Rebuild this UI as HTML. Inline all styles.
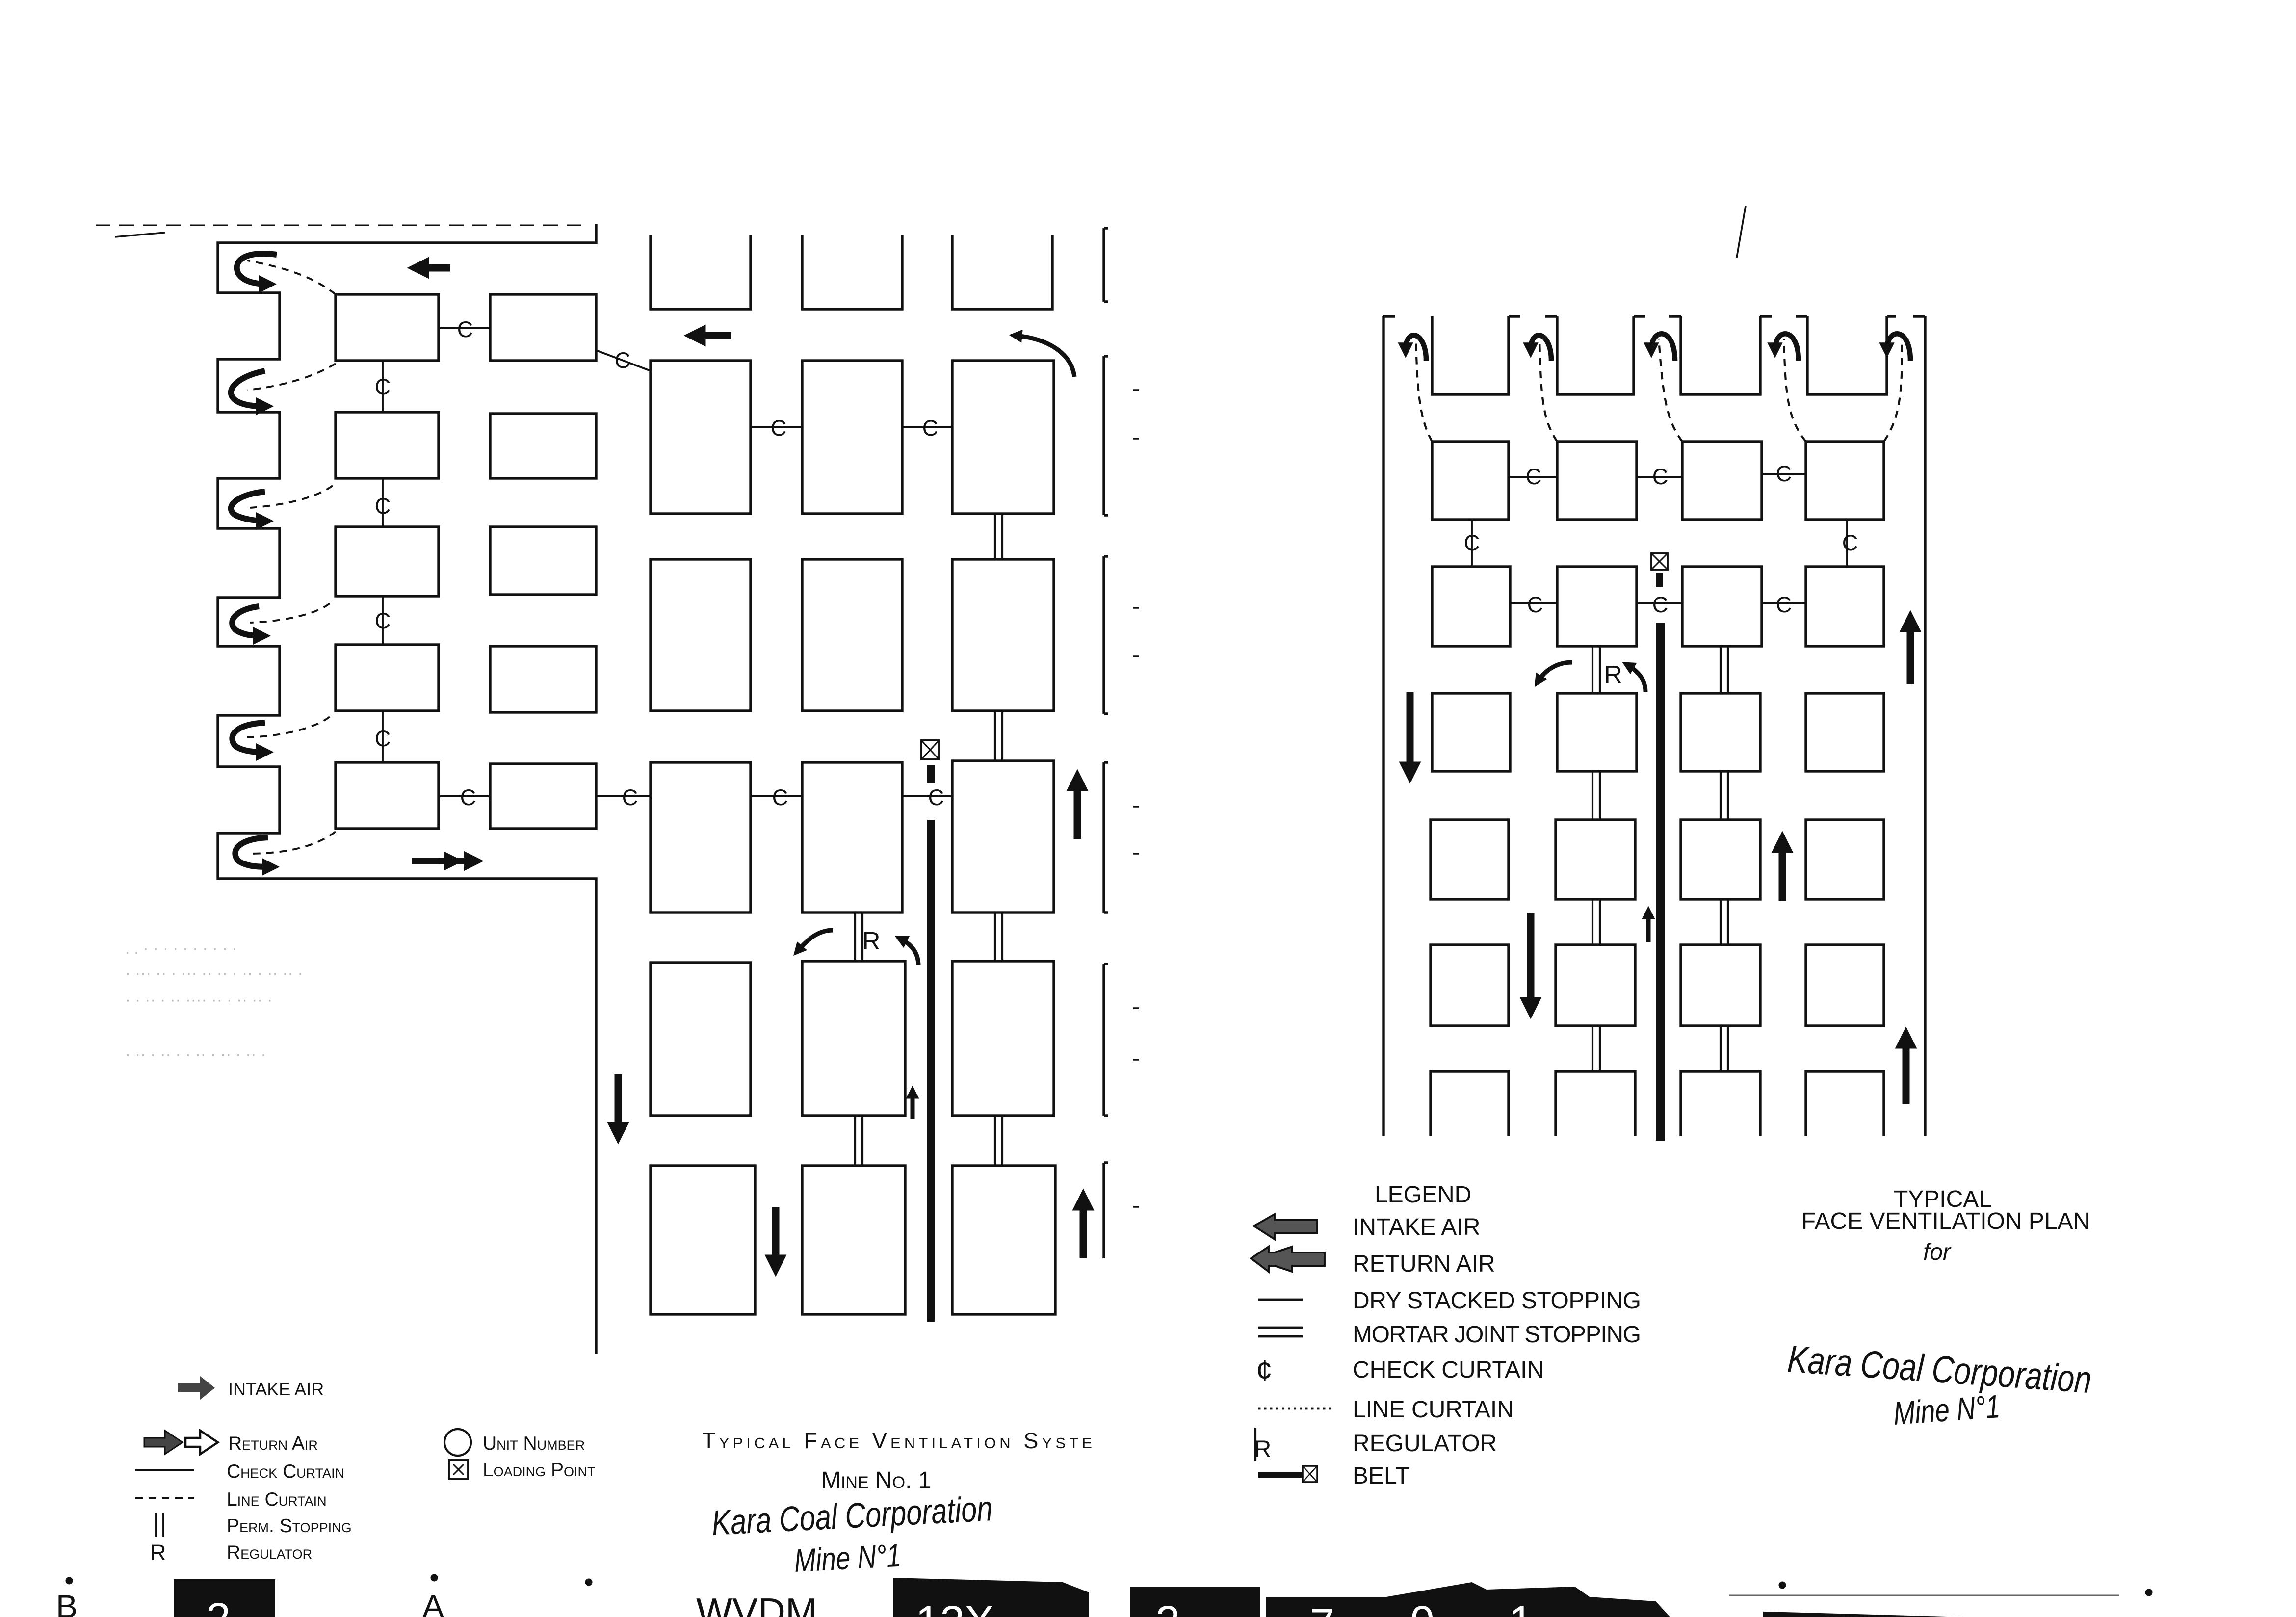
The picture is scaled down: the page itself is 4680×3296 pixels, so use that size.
<!DOCTYPE html>
<html><head><meta charset="utf-8"><style>
html,body{margin:0;padding:0;background:#fff;width:4680px;height:3296px;overflow:hidden}
svg{display:block}
.t{font-family:"Liberation Sans Narrow","Liberation Sans",sans-serif;fill:#111}
.h{font-family:"Liberation Sans Narrow","Liberation Sans",sans-serif;font-style:italic;fill:#111}
</style></head><body>
<svg width="4680" height="3296" viewBox="0 0 1560 1098.67" xmlns="http://www.w3.org/2000/svg">
<defs>
<marker id="ah" viewBox="0 0 10 10" refX="5" refY="5" markerWidth="3" markerHeight="3" orient="auto"><path d="M0,0 L10,5 L0,10 z" fill="#111"/></marker>
</defs>
<rect width="1560" height="1098.67" fill="#fff"/>
<g fill="none" stroke="#111" stroke-width="1.8">
<path d="M65,153 H400" stroke-dasharray="10,6" stroke-width="1"/>
<path d="M78,161 L112,158" stroke-width="1.2"/>
<path d="M1180,175 L1186,140" stroke-width="1.2"/>
<path d="M405,152 V165 H148 V199 H190 V244 H148 V280 H190 V325 H148 V359 H190 V406 H148 V439 H190 V486 H148 V521 H190 V566 H148 V597 H405 V920"/>
<rect x="228" y="200" width="70" height="45"/>
<rect x="228" y="280" width="70" height="45"/>
<rect x="228" y="358" width="70" height="47"/>
<rect x="228" y="438" width="70" height="45"/>
<rect x="228" y="518" width="70" height="45"/>
<rect x="333" y="200" width="72" height="45"/>
<rect x="333" y="281" width="72" height="44"/>
<rect x="333" y="358" width="72" height="46"/>
<rect x="333" y="439" width="72" height="45"/>
<rect x="333" y="519" width="72" height="44"/>
<path d="M442,160 V210 H510 V160"/>
<path d="M545,160 V210 H613 V160"/>
<path d="M647,160 V210 H715 V160"/>
<rect x="442" y="245" width="68" height="104"/><rect x="545" y="245" width="68" height="104"/><rect x="647" y="245" width="69" height="104"/>
<rect x="442" y="380" width="68" height="103"/><rect x="545" y="380" width="68" height="103"/><rect x="647" y="380" width="69" height="103"/>
<rect x="442" y="518" width="68" height="102"/><rect x="545" y="518" width="68" height="102"/><rect x="647" y="517" width="69" height="103"/>
<rect x="442" y="654" width="68" height="104"/><rect x="545" y="653" width="70" height="105"/><rect x="647" y="653" width="69" height="105"/>
<rect x="442" y="792" width="71" height="101"/><rect x="545" y="792" width="70" height="101"/><rect x="647" y="792" width="70" height="101"/>
<path d="M750,155 V205 M750,242 V350 M750,378 V485 M750,518 V620 M750,655 V758 M750,790 V855"/>
<path d="M750,155 h3 M750,205 h3 M750,242 h3 M750,350 h3 M750,378 h3 M750,485 h3 M750,518 h3 M750,620 h3 M750,655 h3 M750,758 h3 M750,790 h3"/>
<path d="M770,265 h4 M770,298 h4 M770,413 h4 M770,446 h4 M770,548 h4 M770,580 h4 M770,685 h4 M770,720 h4 M770,820 h4" stroke-width="1.2"/>
<path d="M298,223 H333 M405,238 L442,252 M260,245 V280 M260,325 V358 M260,405 V438 M260,483 V518 M298,541 H333 M405,541 H442 M510,541 H545 M613,541 H647 M510,290 H545 M613,290 H647" stroke-width="1.3"/>
<path d="M676,349 V380 M681,349 V380 M676,483 V517 M681,483 V517 M676,620 V653 M681,620 V653 M676,758 V792 M681,758 V792 M581,758 V792 M586,758 V792 M581,620 V653 M586,620 V653" stroke-width="1.4"/>
<g stroke-dasharray="5,4" stroke-width="1.3">
<path d="M228,200 C215,190 200,183 168,177"/>
<path d="M228,247 C215,255 195,262 168,265"/>
<path d="M226,330 C215,338 195,343 170,345"/>
<path d="M224,410 C215,417 195,422 170,423"/>
<path d="M224,487 C215,494 195,500 168,501"/>
<path d="M228,565 C215,575 195,580 168,580"/>
</g>
<path d="M940,215 V772 M1308,215 V772"/>
<path d="M940,215 h8 M1300,215 h8"/>
<path d="M973,215 V268 H1025 V215 M1058,215 V268 H1110 V215 M1142,215 V268 H1196 V215 M1228,215 V268 H1282 V215"/>
<path d="M1025,215 h8 M1050,215 h8 M1110,215 h8 M1134,215 h8 M1196,215 h8 M1220,215 h8 M1282,215 h6"/>
<rect x="973" y="300" width="52" height="53"/><rect x="1058" y="300" width="54" height="53"/><rect x="1143" y="300" width="54" height="53"/><rect x="1227" y="300" width="53" height="53"/>
<rect x="973" y="385" width="53" height="54"/><rect x="1058" y="385" width="54" height="54"/><rect x="1143" y="385" width="54" height="54"/><rect x="1227" y="385" width="53" height="54"/>
<rect x="973" y="471" width="53" height="53"/><rect x="1058" y="471" width="54" height="53"/><rect x="1142" y="471" width="54" height="53"/><rect x="1227" y="471" width="53" height="53"/>
<rect x="972" y="557" width="53" height="54"/><rect x="1057" y="557" width="54" height="54"/><rect x="1142" y="557" width="54" height="54"/><rect x="1227" y="557" width="53" height="54"/>
<rect x="972" y="642" width="53" height="55"/><rect x="1057" y="642" width="54" height="55"/><rect x="1142" y="642" width="54" height="55"/><rect x="1227" y="642" width="53" height="55"/>
<path d="M972,772 V728 H1025 V772 M1057,772 V728 H1111 V772 M1142,772 V728 H1196 V772 M1227,772 V728 H1280 V772"/>
<path d="M1025,324 H1058 M1112,324 H1143 M1197,322 H1227 M1000,353 V385 M1255,353 V385 M1026,410 H1058 M1112,410 H1143 M1197,410 H1227" stroke-width="1.3"/>
<path d="M1082,439 V471 M1087,439 V471 M1082,524 V557 M1087,524 V557 M1082,611 V642 M1087,611 V642 M1082,697 V728 M1087,697 V728 M1169,439 V471 M1174,439 V471 M1169,524 V557 M1174,524 V557 M1169,611 V642 M1174,611 V642 M1169,697 V728 M1174,697 V728" stroke-width="1.4"/>
<g stroke-dasharray="5,4" stroke-width="1.4">
<path d="M973,300 C965,285 963,270 962,230"/>
<path d="M1058,300 C1048,285 1047,270 1046,230"/>
<path d="M1143,300 C1132,285 1130,270 1127,230"/>
<path d="M1227,300 C1215,285 1213,270 1212,230"/>
<path d="M1280,300 C1290,285 1293,270 1292,230"/>
</g>
<path d="M92,999 H132" stroke-width="1.3"/>
<path d="M92,1018 H132" stroke-dasharray="5,4" stroke-width="1.3"/>
<path d="M106,1028 V1044 M111,1028 V1044" stroke-width="1.3"/>
<circle cx="311" cy="980" r="9" stroke-width="1.4"/>
<rect x="305" y="992" width="13" height="13" stroke-width="1.3"/>
<path d="M308,995 l7,7 M315,995 l-7,7" stroke-width="1"/>
<path d="M855,883 H885 M855,902 H885 M855,908 H885" stroke-width="1.6"/>
<path d="M855,957 H905" stroke-dasharray="1.5,2.5" stroke-width="1.6"/>
<path d="M853,970 V993" stroke-width="1.4"/>
</g>
<g stroke="#111" fill="none" stroke-width="5" marker-end="url(#ah)">
<path d="M306,182 H284"/><path d="M497,228 H472"/>
<path d="M732,570 V530"/><path d="M736,855 V815"/>
<path d="M420,730 V770"/><path d="M527,820 V860"/>
<path d="M958,470 V525"/><path d="M1040,620 V685"/>
<path d="M1298,465 V422"/><path d="M1211,612 V572"/><path d="M1295,750 V705"/>
</g>
<g stroke="#111" fill="none" stroke-width="3" marker-end="url(#ah)">
<path d="M620,760 V742"/><path d="M1120,640 V620"/>
<path d="M566,632 C556,632 549,638 542,646"/><path d="M624,656 C624,648 620,642 612,638"/>
<path d="M1068,450 C1058,450 1050,455 1045,463"/><path d="M1118,470 C1118,462 1113,456 1106,452"/>
<path d="M730,256 C728,240 712,230 690,228"/>
</g>
<g stroke="#111" fill="none" stroke-width="4.5" marker-end="url(#ah)">
<path d="M280,585 H308"/><path d="M298,585 H322"/>
</g>
<g stroke="#111" fill="none" stroke-width="4" marker-end="url(#ah)">
<path d="M188,173 C165,170 158,178 162,186 C166,192 175,193 182,193"/>
<path d="M180,252 C160,256 152,266 160,272 C166,276 175,276 180,276"/>
<path d="M180,334 C160,336 152,345 160,350 C166,353 175,354 180,354"/>
<path d="M176,412 C160,414 154,422 160,428 C166,432 174,432 178,432"/>
<path d="M180,491 C160,492 154,500 160,507 C166,511 175,511 180,511"/>
<path d="M182,569 C162,570 156,578 162,585 C168,589 176,589 184,589"/>
</g>
<g stroke="#111" fill="none" stroke-width="3.5" marker-end="url(#ah)">
<path d="M969,245 C969,225 955,222 955,238"/>
<path d="M1054,245 C1054,225 1040,222 1040,238"/>
<path d="M1138,245 C1138,222 1122,222 1122,238"/>
<path d="M1222,245 C1222,222 1206,222 1206,238"/>
<path d="M1298,245 C1298,222 1282,222 1282,238"/>
</g>
<rect x="630" y="557" width="5" height="341" fill="#111"/>
<rect x="630" y="520" width="5" height="12" fill="#111"/>
<rect x="626" y="503" width="12" height="13" fill="#fff" stroke="#111" stroke-width="1.3"/>
<path d="M626,503 l12,13 M638,503 l-12,13" stroke="#111" stroke-width="1"/>
<rect x="1125" y="423" width="6" height="352" fill="#111"/>
<rect x="1125" y="389" width="5" height="10" fill="#111"/>
<rect x="1122" y="376" width="11" height="11" fill="#fff" stroke="#111" stroke-width="1.3"/>
<path d="M1122,376 l11,11 M1133,376 l-11,11" stroke="#111" stroke-width="1"/>
<rect x="855" y="1000" width="30" height="4" fill="#111"/>
<rect x="885" y="996" width="10" height="11" fill="#fff" stroke="#111" stroke-width="1.2"/>
<path d="M885,996 l10,11 M895,996 l-10,11" stroke="#111" stroke-width="0.8"/>
<path d="M852,833 L866,825 V829 H895 V838 H866 V842 z" fill="#555" stroke="#111" stroke-width="1.3"/>
<path d="M850,855 L862,847 V851 H866 L878,847 V851 H900 V860 H878 V864 L866,860 H862 V864 z" fill="#555" stroke="#111" stroke-width="1.3"/>
<path d="M121,940 H136 V935 L146,943 L136,951 V946 H121 z" fill="#444"/>
<path d="M98,977 H112 V972 L124,980 L112,988 V983 H98 z" fill="#444" stroke="#111"/>
<path d="M126,977 H136 V972 L148,980 L136,988 V983 H126 z" fill="#fff" stroke="#111" stroke-width="1.5"/>
<g class="t" font-size="15" text-anchor="middle">
<text x="316" y="229">C</text><text x="423" y="250">C</text>
<text x="260" y="268">C</text><text x="260" y="349">C</text><text x="260" y="427">C</text><text x="260" y="507">C</text>
<text x="318" y="547">C</text><text x="428" y="547">C</text><text x="530" y="547">C</text><text x="636" y="547">C</text>
<text x="529" y="296">C</text><text x="632" y="296">C</text>
<text x="1042" y="329">C</text><text x="1128" y="329">C</text><text x="1212" y="327">C</text>
<text x="1000" y="374">C</text><text x="1257" y="374">C</text>
<text x="1043" y="416">C</text><text x="1128" y="416">C</text><text x="1212" y="416">C</text>
<text x="592" y="645" font-size="17">R</text><text x="1096" y="464" font-size="17">R</text>
<text x="859" y="938" font-size="20">¢</text>
<text x="858" y="990" font-size="16">R</text>
</g>
<g class="t" font-size="12" font-variant="small-caps">
<text x="155" y="948">INTAKE AIR</text>
<text x="155" y="985" font-size="13">Return Air</text>
<text x="154" y="1004" font-size="13">Check Curtain</text>
<text x="154" y="1023" font-size="13">Line Curtain</text>
<text x="154" y="1041" font-size="13">Perm. Stopping</text>
<text x="154" y="1059" font-size="13">Regulator</text>
<text x="328" y="985" font-size="13">Unit Number</text>
<text x="328" y="1003" font-size="13">Loading Point</text>
<text x="477" y="984" font-size="15" textLength="265">Typical Face Ventilation Syste</text>
<text x="558" y="1011" font-size="16">Mine No. 1</text>
</g>
<text x="102" y="1060" class="t" font-size="15">R</text>
<text class="h" font-size="24" transform="translate(484,1043) rotate(-3) scale(0.8,1)">Kara Coal Corporation</text>
<text class="h" font-size="22" transform="translate(540,1068) rotate(-3) scale(0.8,1)">Mine N°1</text>
<g class="t" font-size="16">
<text x="934" y="817">LEGEND</text>
<text x="919" y="839">INTAKE AIR</text>
<text x="919" y="864">RETURN AIR</text>
<text x="919" y="889" textLength="196">DRY STACKED STOPPING</text>
<text x="919" y="912" textLength="196">MORTAR JOINT STOPPING</text>
<text x="919" y="936">CHECK CURTAIN</text>
<text x="919" y="963">LINE CURTAIN</text>
<text x="919" y="986">REGULATOR</text>
<text x="919" y="1008">BELT</text>
<text x="1320" y="820" text-anchor="middle">TYPICAL</text>
<text x="1322" y="835" text-anchor="middle">FACE VENTILATION PLAN</text>
<text x="1316" y="856" text-anchor="middle" font-style="italic">for</text>
</g>
<text class="h" font-size="26" transform="translate(1214,932) rotate(4) scale(0.8,1)">Kara Coal Corporation</text>
<text class="h" font-size="22" transform="translate(1287,968) rotate(-4) scale(0.8,1)">Mine N°1</text>
<g class="t" font-size="11" style="fill:#bbb">
<text x="85" y="648">.  .  ·  ·  ·  ·   ·  ·  ·  ·   ·  ·</text>
<text x="85" y="665">· ··· ·· · ··· ·· ·· · ·· · ·· ·· ·</text>
<text x="85" y="683">· · ·· · ·· ···· ·· · ·· ·· ·</text>
<text x="85" y="720">· ·· · ·· · · ·· · ·· · ·· ·</text>
</g>
<g class="t" font-size="22">
<text x="38" y="1099">B</text><text x="287" y="1099">A</text>
<text x="473" y="1104" font-size="26">WVDM</text>
</g>
<circle cx="47" cy="1074" r="2.5" fill="#111"/><circle cx="295" cy="1072" r="2.5" fill="#111"/><circle cx="400" cy="1075" r="2.5" fill="#111"/>
<circle cx="1211" cy="1077" r="2.5" fill="#111"/><circle cx="1460" cy="1082" r="2.5" fill="#111"/>
<rect x="118" y="1073" width="69" height="26" fill="#111"/>
<path d="M607,1072 L722,1075 L740,1082 V1099 H607 z" fill="#111"/>
<rect x="768" y="1078" width="88" height="21" fill="#111"/>
<rect x="860" y="1085" width="82" height="14" fill="#111"/>
<path d="M942,1085 L1000,1075 L1010,1080 V1099 H942 z" fill="#111"/>
<path d="M1010,1080 L1070,1078 L1080,1085 V1099 H1010 z" fill="#111"/>
<path d="M1080,1085 L1125,1088 L1135,1099 H1080 z" fill="#111"/>
<g class="t" font-size="30" style="fill:#fff">
<text x="622" y="1112">12X</text><text x="785" y="1112">2</text><text x="890" y="1114">7</text><text x="958" y="1112">0</text><text x="1025" y="1112">1</text>
</g>
<text x="140" y="1110" class="t" font-size="30" style="fill:#fff">2</text>
<path d="M1175,1084 H1440" stroke="#666" stroke-width="1"/>
<path d="M1200,1104 V1097 L1420,1103" fill="#111" stroke="#111" stroke-width="4"/>
</svg>
</body></html>
